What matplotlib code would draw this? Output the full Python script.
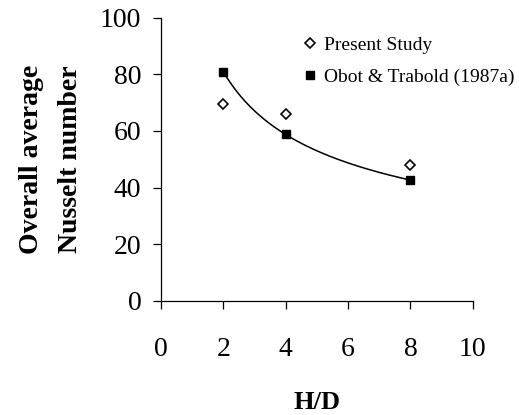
import numpy as np
import matplotlib
matplotlib.use("Agg")
from matplotlib import pyplot as plt

plt.rcParams['font.family'] = ['Liberation Serif', 'DejaVu Serif']

hd = [2, 4, 8]
present_study = [69.6, 65.9, 47.8]
obot_trabold = [80.9, 58.8, 42.6]

fig = plt.figure(figsize=(5.19, 4.15), dpi=100)
ax = fig.add_axes([0.310, 0.2754, 0.601, 0.6819])

# power-law trendline through the Obot & Trabold points
b, ln_a = np.polyfit(np.log(hd), np.log(obot_trabold), 1)
xs = np.linspace(hd[0], hd[-1], 200)
ax.plot(xs, np.exp(ln_a) * xs**b, color='black', lw=1.1, zorder=1)

ax.plot(hd, present_study, ls='none', marker='D', ms=5.5, mfc='white',
        mec='black', mew=1.2, label='Present Study', zorder=3)
ax.plot(hd, obot_trabold, ls='none', marker='s', ms=6.2, mfc='black',
        mec='black', label='Obot & Trabold (1987a)', zorder=3)

ax.set_xlim(0, 10)
ax.set_ylim(0, 100)
ax.set_xticks([0, 2, 4, 6, 8, 10])
ax.set_yticks([0, 20, 40, 60, 80, 100])
ax.spines['top'].set_visible(False)
ax.spines['right'].set_visible(False)
for s in ['left', 'bottom']:
    ax.spines[s].set_linewidth(0.9)
ax.tick_params(axis='x', direction='out', length=6, width=0.9, pad=20, labelsize=20)
ax.tick_params(axis='y', direction='out', length=6, width=0.9, pad=8, labelsize=20)

ax.set_xlabel('H/D', fontsize=19, fontweight='bold', labelpad=21)
ax.set_ylabel('Overall average\nNusselt number', fontsize=20, fontweight='bold',
              labelpad=12, linespacing=1.75)

ax.legend(loc='upper left', bbox_to_anchor=(0.46, 0.935), frameon=False,
          fontsize=14, handlelength=0.6, handletextpad=0.4, labelspacing=0.75,
          borderpad=0, borderaxespad=0, markerscale=0.85)

fig.savefig('out.png', dpi=100)
